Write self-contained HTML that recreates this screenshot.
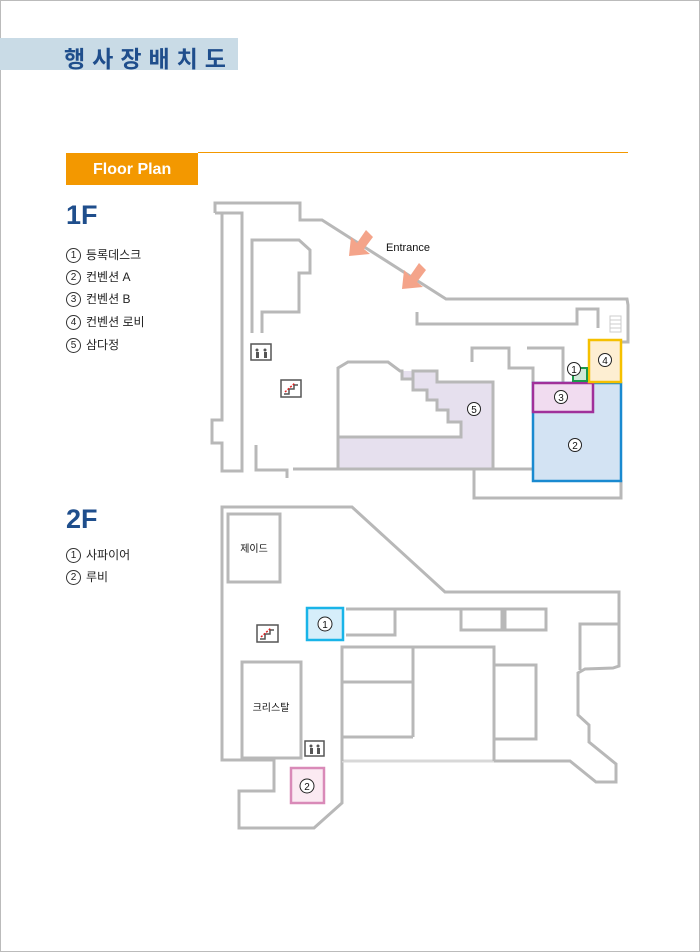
<!DOCTYPE html>
<html><head><meta charset="utf-8"><style>
body{margin:0;width:700px;height:952px;background:#fff;overflow:hidden;font-family:"Liberation Sans","Noto Sans CJK KR",sans-serif;}
.page{position:absolute;left:0;top:0;width:698px;height:950px;border:1px solid #bbb;}
.hdr{position:absolute;left:0;top:38px;width:238px;height:32px;background:#c9dbe6;}
.hdr span{position:absolute;left:64px;top:2px;font-size:23px;font-weight:bold;color:#1f4e8c;letter-spacing:7px;}
.fp{position:absolute;left:66px;top:153px;width:132px;height:32px;background:#f39800;color:#fff;font-weight:bold;font-size:16px;line-height:33px;text-indent:27px;}
.fl{position:absolute;left:198px;top:152px;width:430px;height:1px;background:#f39800;}
.big{position:absolute;left:66px;font-size:27px;font-weight:bold;color:#1f4e8c;}
.li{position:absolute;left:66px;font-size:12px;color:#222;}
.c{display:inline-block;width:13px;height:13px;border:1px solid #333;border-radius:50%;font-size:10px;line-height:13px;text-align:center;margin-right:5px;vertical-align:middle;}
</style></head><body>
<div class="page"></div>
<div class="hdr"><span>행사장배치도</span></div>
<div class="fp">Floor Plan</div><div class="fl"></div>
<div class="big" style="top:200px">1F</div>
<div class="li" style="top:246px"><span class="c">1</span>등록데스크</div>
<div class="li" style="top:268px"><span class="c">2</span>컨벤션 A</div>
<div class="li" style="top:290px"><span class="c">3</span>컨벤션 B</div>
<div class="li" style="top:313px"><span class="c">4</span>컨벤션 로비</div>
<div class="li" style="top:336px"><span class="c">5</span>삼다정</div>
<div class="big" style="top:504px">2F</div>
<div class="li" style="top:546px"><span class="c">1</span>사파이어</div>
<div class="li" style="top:568px"><span class="c">2</span>루비</div>
<svg width="700" height="952" style="position:absolute;left:0;top:0" fill="none" stroke="#b8b8b8" stroke-width="3" font-family="Liberation Sans, Noto Sans CJK KR, sans-serif">
<!-- 1F -->
<polygon points="402,371 437,371 437,382 493,382 493,469 338,469 338,438 461,438 461,422 448,422 448,410 437,410 437,400 427,400 427,390 413,390 413,379 402,379" fill="#e6e0ee" stroke="none"/>
<polyline points="338,469 338,368 348,362 388,362 400,371 402,371 402,379 413,379 413,390 427,390 427,400 437,400 437,410 448,410 448,422 461,422 461,437 338,437"/>
<polyline points="413,379 413,371 437,371 437,382 493,382 493,469"/>
<polyline points="215,213 215,203 300,203 300,220 322,220 446,299 627,299 628,305 628,342 621,342"/>
<polyline points="215,213 222,213 222,420 212,420 212,443 222,443 222,471 242,471 242,213 215,213"/>
<polyline points="252,333 252,240 299,240 310,250 310,273 299,273 299,312 262,312 262,333"/>
<polyline points="256,445 256,470 287,470 287,478"/>
<line x1="293" y1="469" x2="533" y2="469"/>
<polyline points="417,312 417,324 577,324 577,309 598,309 598,328"/>
<polyline points="472,362 472,348 509,348 509,368 533,368 533,383"/>
<polyline points="527,348 563,348 563,382"/>
<polyline points="474,469 474,498 621,498 621,480"/>
<rect x="533" y="383" width="88" height="98" fill="#d3e3f3" stroke="#1a8ad0" stroke-width="2.5"/>
<rect x="533" y="383" width="60" height="29" fill="#f1dcf0" stroke="#a0309a" stroke-width="2.5"/>
<rect x="589" y="340" width="32" height="42" fill="#fdeed2" stroke="#f5c000" stroke-width="2.5"/>
<rect x="573" y="368" width="14" height="13" fill="#cfe8d8" stroke="#1a9a4a" stroke-width="2"/>
<g stroke="#ccc" stroke-width="1"><rect x="610" y="316" width="11" height="16"/><line x1="610" y1="320" x2="621" y2="320"/><line x1="610" y1="324" x2="621" y2="324"/><line x1="610" y1="328" x2="621" y2="328"/></g>
<g fill="#f4a48a" stroke="none">
<polygon points="349,256 351,237 357,243 366,230 373,237 364,249 370,254"/>
<polygon points="402,289 404,270 410,276 419,263 426,270 417,282 423,287"/>
</g>
<text x="386" y="251" fill="#111" stroke="none" font-size="11">Entrance</text>
<g stroke="#222" stroke-width="1" fill="#fff" font-size="10">
<circle cx="574" cy="369" r="6.5"/><circle cx="575" cy="445" r="6.5"/><circle cx="561" cy="397" r="6.5"/><circle cx="605" cy="360" r="6.5"/><circle cx="474" cy="409" r="6.5"/>
</g>
<g fill="#111" stroke="none" font-size="10" text-anchor="middle">
<text x="574" y="373">1</text><text x="575" y="449">2</text><text x="561" y="401">3</text><text x="605" y="364">4</text><text x="474" y="413">5</text>
</g>
<g stroke="#555" stroke-width="1.5" fill="#fff"><rect x="251" y="344" width="20" height="16"/><rect x="281" y="380" width="20" height="17"/><rect x="305" y="741" width="19" height="15"/><rect x="257" y="625" width="21" height="17"/></g>
<g fill="#555" stroke="none"><circle cx="257" cy="350" r="1.5"/><rect x="256" y="352" width="3" height="6"/><circle cx="265" cy="350" r="1.5"/><rect x="264" y="352" width="3" height="6"/><circle cx="311" cy="746" r="1.5"/><rect x="310" y="748" width="3" height="6"/><circle cx="318" cy="746" r="1.5"/><rect x="317" y="748" width="3" height="6"/></g>
<polyline points="284,394 289,394 289,389 294,389 294,385 298,385" stroke="#555" stroke-width="1.5"/>
<line x1="285" y1="392" x2="295" y2="383" stroke="#d22" stroke-width="1.5" stroke-dasharray="2 1.5"/>
<polyline points="260,639 265,639 265,634 270,634 270,630 274,630" stroke="#555" stroke-width="1.5"/>
<line x1="261" y1="637" x2="271" y2="628" stroke="#d22" stroke-width="1.5" stroke-dasharray="2 1.5"/>
<!-- 2F -->
<polyline points="342,761 342,803 314,828 239,828 239,791 274,791 274,760 222,760 222,507 352,507 445,592 619,592 619,666 613,668 585,669 578,673 578,715 589,725 589,742 616,764 616,782 596,782 570,761 494,761"/>
<line x1="342" y1="761" x2="494" y2="761" stroke="#d8d8d8"/>
<polyline points="580,670 580,624 619,624"/>
<rect x="228" y="514" width="52" height="68"/>
<rect x="242" y="662" width="59" height="96"/>
<polyline points="346,609 395,609 395,635 346,635"/>
<line x1="395" y1="609" x2="461" y2="609"/>
<rect x="461" y="609" width="41" height="21"/>
<rect x="505" y="609" width="41" height="21"/>
<polyline points="342,761 342,647 494,647 494,761"/>
<line x1="413" y1="647" x2="413" y2="737"/><line x1="342" y1="737" x2="413" y2="737"/><line x1="342" y1="682" x2="413" y2="682"/>
<rect x="494" y="665" width="42" height="74"/>
<rect x="307" y="608" width="36" height="32" fill="#d6eefa" stroke="#19b4e8" stroke-width="2.5"/>
<rect x="291" y="768" width="33" height="35" fill="#fbeaf2" stroke="#d98ab8" stroke-width="2.5"/>
<g stroke="#222" stroke-width="1" fill="#fff"><circle cx="325" cy="624" r="7"/><circle cx="307" cy="786" r="7"/></g>
<g fill="#111" stroke="none" font-size="10" text-anchor="middle"><text x="325" y="628">1</text><text x="307" y="790">2</text>
<text x="254" y="552">제이드</text><text x="271" y="711">크리스탈</text></g>
</svg>
</body></html>
